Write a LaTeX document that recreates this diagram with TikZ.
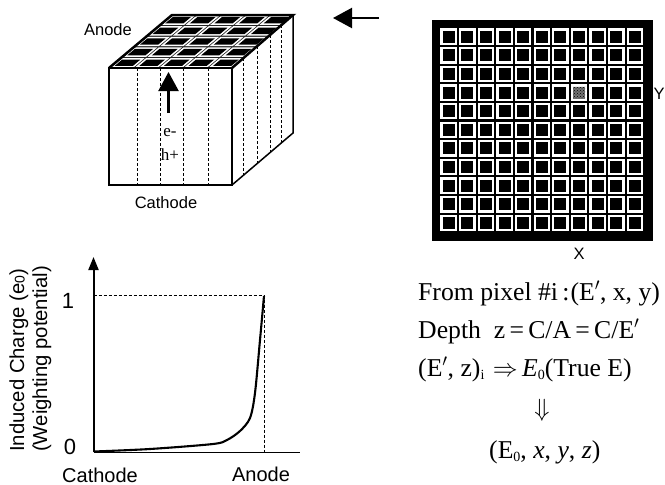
\documentclass[tikz,border=0pt]{standalone}
\usepackage{fontspec}
\setmainfont{Liberation Serif}
\newfontfamily\lab{Liberation Sans}
\usetikzlibrary{arrows.meta,patterns}
\newcommand{\fpx}[1]{\fontsize{#1}{#1}\selectfont}
\tikzset{
  x=1pt,y=-1pt,
  lbl/.style={inner sep=0pt,font=\lab\fpx{16.5}},
  axlbl/.style={inner sep=0pt,font=\lab\fpx{20}},
  eq/.style={inner sep=0pt,anchor=base west,font=\fpx{25.7}},
  edge/.style={line width=2.5pt,line join=miter},
  guide/.style={dash pattern=on 3pt off 2pt,line width=0.7pt},
  bigarrow/.style={line width=2.2pt,-{Triangle[length=19pt,width=20pt]}},
}
\begin{document}
\begin{tikzpicture}
\useasboundingbox (0,0) rectangle (665,485);
% cube
\coordinate (fl) at (109,68); \coordinate (fr) at (232,68);
\coordinate (bl) at (172,15); \coordinate (br) at (293,15);
\coordinate (dl) at (109,185); \coordinate (dr) at (232,185);
\coordinate (db) at (293,133);
\fill[black!85] (fl)--(fr)--(br)--(bl)--cycle;
\foreach \i in {0,...,4}\foreach \j in {0,...,4}{
  \pgfmathsetmacro{\ua}{(\i+0.03)/5}\pgfmathsetmacro{\ub}{(\i+0.97)/5}
  \pgfmathsetmacro{\va}{(\j+0.06)/5}\pgfmathsetmacro{\vb}{(\j+0.94)/5}
  \pgfmathsetmacro{\uc}{(\i+0.13)/5}\pgfmathsetmacro{\ud}{(\i+0.87)/5}
  \pgfmathsetmacro{\vc}{(\j+0.2)/5}\pgfmathsetmacro{\vd}{(\j+0.8)/5}
  \fill[white] (109+123*\ua+63*\va,68-53*\va)--(109+123*\ub+63*\va,68-53*\va)--(109+123*\ub+63*\vb,68-53*\vb)--(109+123*\ua+63*\vb,68-53*\vb)--cycle;
  \fill[black] (109+123*\uc+63*\vc,68-53*\vc)--(109+123*\ud+63*\vc,68-53*\vc)--(109+123*\ud+63*\vd,68-53*\vd)--(109+123*\uc+63*\vd,68-53*\vd)--cycle;
}
\foreach \x in {137,160,183,208}
  \draw[guide] (\x,68)--(\x,185);
\foreach \a in {243,257,270,281}{
  \draw[guide,line width=1pt] (\a,{68-(\a-232)*53/61})--(\a,{185-(\a-232)*52/61});
}
\draw[edge] (fl)--(fr)--(dr)--(dl)--cycle;
\draw[edge] (fl)--(bl)--(br)--(fr);
\draw[line width=1.5pt] (br)--(db)--(dr);
% arrows
\coordinate (a1) at (168.5,113); \coordinate (a2) at (168.5,72);
\draw[bigarrow] (a1)--(a2);
\coordinate (b1) at (379,18); \coordinate (b2) at (333,18);
\draw[bigarrow] (b1)--(b2);
\node[lbl] (anode) at (108,30) {Anode};
\node[lbl] (cath) at (166,203) {Cathode};
\node[inner sep=0pt,font=\fpx{17}] (em) at (170,133) {e-};
\node[inner sep=0pt,font=\fpx{17}] (hp) at (170,155) {h+};
% pixel array
\fill[black] (432,20) rectangle (653,241);
\foreach \i in {0,...,10}\foreach \j in {0,...,10}{
  \fill[white] ({440.3+18.64*\i},{28.3+18.64*\j}) rectangle ++(16.6,16.6);
  \fill[black] ({442.6+18.64*\i},{30.6+18.64*\j}) rectangle ++(12,12);
}
\fill[black!55] ({442.6+18.64*7},{30.6+18.64*3}) rectangle ++(12,12);
\pattern[pattern=crosshatch dots,pattern color=black] ({442.6+18.64*7},{30.6+18.64*3}) rectangle ++(12,12);
\node[lbl] (xl) at (579,254) {X};
\node[lbl] (yl) at (659,94) {Y};
% plot
\coordinate (o) at (93.5,452); \coordinate (yt) at (93.5,257); \coordinate (xe) at (300,452);
\coordinate (pk) at (264,295); \coordinate (pf) at (264,452); \coordinate (py) at (93.5,295);
\draw[line width=2pt,-{Triangle[length=13pt,width=10pt]}] (o)--(yt);
\draw[line width=0.7pt] (o)--(xe);
\draw[guide] (py)--(pk)--(pf);
\draw[line width=2.1pt] plot[smooth,tension=0.5] coordinates {(94,451.5) (150,449) (213,444) (227,440) (240,431) (250,418) (255,393) (260,340) (264,296)};
\node[axlbl,font=\lab\fpx{22}] (one) at (68,301) {1};
\node[axlbl,font=\lab\fpx{22}] (zero) at (70,447) {0};
\node[axlbl] (cc) at (100,475) {Cathode};
\node[axlbl] (aa) at (261,474) {Anode};
\node[inner sep=0pt,rotate=90,anchor=west,font=\lab\fpx{20.3}] (ic) at (19,452) {Induced Charge (e\raisebox{-0.5pt}{\fpx{14}0})};
\node[inner sep=0pt,rotate=90,anchor=west,font=\lab\fpx{20.3}] (wp) at (42,452) {(Weighting potential)};
% equations
\node[eq] (e1) at (418,300) {From pixel \#i\,:\kern1pt(E$'$, x, y)};
\node[eq] (e2) at (418,338) {Depth\ \ z\,=\,C/A\,=\,C/E$'$};
\node[eq] (e3) at (418,376) {(E$'$, z)\raisebox{-3.5pt}{\fpx{14}i}\,\,$\Rightarrow$\,\textit{E}\raisebox{-3.5pt}{\fpx{14}0}(True E)};
\node[inner sep=0pt,font=\fpx{28}] (e4) at (542,410) {$\Downarrow$};
\node[eq] (e5) at (489,458) {(E\raisebox{-3.5pt}{\fpx{14}0}, \textit{x}, \textit{y}, \textit{z})};
\end{tikzpicture}
\end{document}
